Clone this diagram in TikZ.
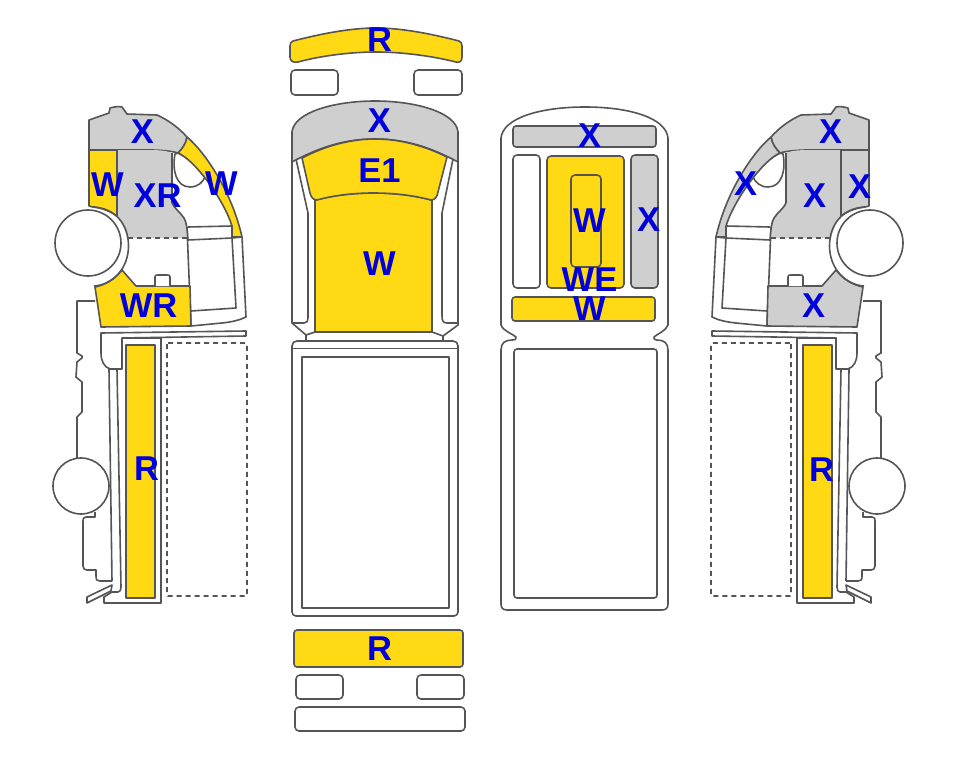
\documentclass[tikz,border=0pt]{standalone}
\usepackage{fontspec}
\setmainfont{Liberation Sans}
\definecolor{yel}{RGB}{255,217,20}
\definecolor{gry}{RGB}{207,207,207}
\definecolor{lin}{RGB}{85,85,85}
\definecolor{blu}{RGB}{0,0,220}
\tikzset{
 ln/.style={draw=lin,line width=1.6pt,line join=round},
 yf/.style={ln,fill=yel},
 gf/.style={ln,fill=gry},
 wf/.style={ln,fill=white},
 dsh/.style={draw=lin,line width=1.6pt,dash pattern=on 5pt off 4pt},
 lab/.style={text=blu,font=\fontsize{34.5pt}{34.5pt}\selectfont\bfseries,inner sep=0pt}
}
% #1 roof, #2 rear panel, #3 centre colour, #4 pillar, #5 lower
\newcommand{\cabside}[5]{%
 % chassis
 \draw[ln] (95,301) -- (77,301) -- (77,353) -- (82,356) -- (82,358) -- (77,362) -- (76,377) -- (82,382) -- (82,412) -- (77,417) -- (77,458);
 \draw[ln] (95,512) -- (95,517) -- (86,517) .. controls (83,517) and (83,519) .. (83,521) -- (83,566) .. controls (83,569) and (85,570) .. (87,570) -- (96,570) -- (96,576) .. controls (96,580) and (97,581) .. (100,581) -- (112,581);
 % cab outer lower
 \draw[ln] (188,240) -- (232,238) -- (242,237) -- (246,317) .. controls (240,320) and (232,322) .. (222,323) -- (191,326);
 \draw[ln] (232,238) -- (236,308) -- (191,311);
 \draw[ln] (188,227) -- (232,226);
 \draw[ln] (187,227) -- (191,326);
 % roof
 \draw[#1] (89,120) -- (109,113) -- (110,108) .. controls (114,107) and (118,106) .. (122,107) -- (127,114) -- (157,115) .. controls (168,120) and (178,127) .. (187,137) .. controls (186,144) and (182,149) .. (178,153) .. controls (172,151) and (160,150) .. (150,150) -- (89,150) -- cycle;
 % rear panel
 \draw[#2] (89,150) -- (117,150) -- (117,216) .. controls (110,211) and (102,208) .. (93,207) -- (89,206) -- cycle;
 % centre panel: filled, then solid edge, then dashed lower edge
 \fill[#3] (117,150) -- (150,150) .. controls (160,150) and (168,151) .. (172,153) -- (172,203) .. controls (174,208) and (180,212) .. (184,218) .. controls (187,223) and (187,230) .. (188,238) -- (127,238) .. controls (125,230) and (122,223) .. (117,216) -- cycle;
 \draw[ln] (117,150) -- (117,216);
 \draw[ln] (172,153) -- (172,203) .. controls (174,208) and (180,212) .. (184,218) .. controls (187,223) and (187,230) .. (188,240);
 \draw[dsh] (187,238) -- (127,238);
 % window
 \draw[wf] (175,154) .. controls (172,170) and (176,187) .. (190,187) .. controls (198,187) and (203,182) .. (205,177) .. controls (197,166) and (188,158) .. (178,153) -- cycle;
 % pillar
 \draw[#4] (187,137) .. controls (205,152) and (232,192) .. (242,237) -- (232,237) -- (232,226) .. controls (224,200) and (195,160) .. (178,153) .. controls (182,149) and (186,144) .. (187,137) -- cycle;
 % lower panel
 \draw[#5] (95,287) -- (101,327) -- (191,326) -- (190,286) -- (136,286) -- (122,270) .. controls (115,279) and (105,285) .. (95,287) -- cycle;
 % bump
 \draw[wf] (155,286) -- (155,277) .. controls (155,275) and (156,275) .. (158,275) -- (167,275) .. controls (169,275) and (170,275) .. (170,277) -- (170,286);
 % wheel arch and wheels
 \draw[ln] (93,207) .. controls (115,208) and (128.5,224) .. (128.5,246) .. controls (128.5,268) and (113,285) .. (94,286);
 \draw[wf] (88,243) circle[radius=33];
 \draw[wf] (81,486) circle[radius=28];
 % cab band
 \draw[wf] (101,333) -- (246,331) -- (246,336) -- (122,338) -- (122,369) -- (110,369) .. controls (104,367) and (101,361) .. (101,353) -- cycle;
 % body
 \draw[ln] (122,338) -- (161,338) -- (161,603) -- (104,603) -- (104,597) -- (112,592) -- (118,592) .. controls (120,592) and (121,590) .. (121,587) -- (117,369);
 \draw[ln] (109,369) -- (112,581);
 \draw[wf] (112,585) -- (87,597) -- (87,603) -- (111,591) -- cycle;
 \draw[yf] (126,345) rectangle (155,598);
 \draw[dsh,rounded corners=1pt] (167,343) rectangle (247,596);
}
\begin{document}
\begin{tikzpicture}[x=1pt,y=-1pt]
\useasboundingbox (0,0) rectangle (963,768);
\fill[white] (0,0) rectangle (963,768);
% left side
\cabside{gf}{yf}{gry}{yf}{yf}
% right side
\begin{scope}[xshift=958pt,x=-1pt]
\cabside{gf}{gf}{gry}{gf}{gf}
\end{scope}
% centre top view
\draw[yf] (290,46) .. controls (290,43) and (291,42) .. (293,41) .. controls (320,34) and (350,28) .. (376,28) .. controls (402,28) and (432,34) .. (459,41) .. controls (461,42) and (462,43) .. (462,46) -- (462,57) .. controls (462,61) and (460,63) .. (456,62) .. controls (432,56) and (402,52) .. (376,52) .. controls (350,52) and (320,56) .. (298,62) .. controls (293,63) and (290,61) .. (290,57) -- cycle;
\draw[wf,rounded corners=4pt] (291,70) rectangle (338,95);
\draw[wf,rounded corners=4pt] (414,70) rectangle (462,95);
\draw[gf] (292,162) -- (292,132) .. controls (294,112) and (335,101) .. (375,101) .. controls (415,101) and (456,112) .. (458,132) -- (458,162) .. controls (430,147) and (405,139) .. (375,139) .. controls (345,139) and (320,147) .. (292,162) -- cycle;
\draw[yf] (315,200) .. controls (335,195) and (355,193) .. (373,193) .. controls (393,193) and (412,195) .. (432,200) -- (432,332) -- (315,332) -- cycle;
\draw[yf] (302,158) .. controls (325,146) and (350,139) .. (375,139) .. controls (400,139) and (425,146) .. (447,157) -- (438,192) .. controls (437,197) and (435,200) .. (431,200) .. controls (412,195) and (393,193) .. (373,193) .. controls (355,193) and (335,195) .. (317,200) .. controls (313,200) and (311,197) .. (310,193) -- cycle;
\draw[ln] (292,162) -- (292,323) -- (306,335) -- (315,332);
\draw[ln] (458,162) -- (458,325) -- (443,336) -- (432,332);
\draw[ln] (296,159) -- (308,213) -- (308,318) .. controls (308,321) and (307,323) .. (304,323) -- (292,323);
\draw[ln] (453,159) -- (442,213) -- (442,316) .. controls (442,321) and (443,323) .. (447,323) -- (458,323);
\draw[ln] (306,335) -- (306,341);
\draw[ln] (443,336) -- (443,341);
\draw[wf] (292,349) -- (292,346) .. controls (292,343) and (294,341) .. (297,341) -- (453,341) .. controls (456,341) and (458,343) .. (458,346) -- (458,349) -- cycle;
\draw[wf,rounded corners=4pt] (292,349) -- (292,616) -- (458,616) -- (458,349);
\draw[wf] (302,357) rectangle (449,608);
\draw[yf,rounded corners=3pt] (294,630) rectangle (463,667);
\draw[wf,rounded corners=4pt] (296,675) rectangle (343,699);
\draw[wf,rounded corners=4pt] (417,675) rectangle (464,699);
\draw[wf,rounded corners=4pt] (295,707) rectangle (465,731);
% underside view
\draw[wf] (501,138) .. controls (503,118) and (540,107) .. (585,107) .. controls (630,107) and (666,118) .. (668,138) -- (668,325) .. controls (666,331) and (657,334) .. (654,337) .. controls (653,339) and (655,340) .. (657,340) .. controls (664,340) and (668,343) .. (668,350) -- (668,604) .. controls (668,608) and (666,610) .. (662,610) -- (507,610) .. controls (503,610) and (501,608) .. (501,604) -- (501,350) .. controls (501,343) and (505,340) .. (512,340) .. controls (515,340) and (517,339) .. (516,337) .. controls (513,334) and (503,331) .. (501,325) -- cycle;
\draw[gf,rounded corners=3pt] (513,126) rectangle (656,147);
\draw[wf,rounded corners=4pt] (513,155) rectangle (540,288);
\draw[yf,rounded corners=4pt] (547,156) rectangle (624,288);
\draw[yf,rounded corners=4pt] (571,175) rectangle (601,267);
\draw[gf,rounded corners=4pt] (631,155) rectangle (658,288);
\draw[yf,rounded corners=3pt] (512,297) rectangle (655,321);
\draw[wf,rounded corners=3pt] (514,349) rectangle (657,598);
% labels
\node[lab] (a1) at (142.5,132) {X};
\node[lab] (a2) at (107.5,185) {W};
\node[lab] (a3) at (157.5,196) {XR};
\node[lab] (a4) at (221.5,184) {W};
\node[lab] (a5) at (148.5,306) {WR};
\node[lab] (a6) at (146.5,469) {R};
\node[lab] (b1) at (379.5,40) {R};
\node[lab] (b2) at (379.5,121) {X};
\node[lab] (b3) at (379.5,171) {E1};
\node[lab] (b4) at (379.5,264) {W};
\node[lab] (b5) at (379.5,649) {R};
\node[lab] (c1) at (589.5,136) {X};
\node[lab] (c2) at (589.5,221) {W};
\node[lab] (c3) at (648.5,220) {X};
\node[lab] (c4) at (589.5,280) {WE};
\node[lab] (c5) at (589.5,309) {W};
\node[lab] (d1) at (830.5,132) {X};
\node[lab] (d2) at (745.5,184) {X};
\node[lab] (d3) at (814.5,196) {X};
\node[lab] (d4) at (859.5,187) {X};
\node[lab] (d5) at (813.5,306) {X};
\node[lab] (d6) at (821.5,470) {R};
\end{tikzpicture}
\end{document}
